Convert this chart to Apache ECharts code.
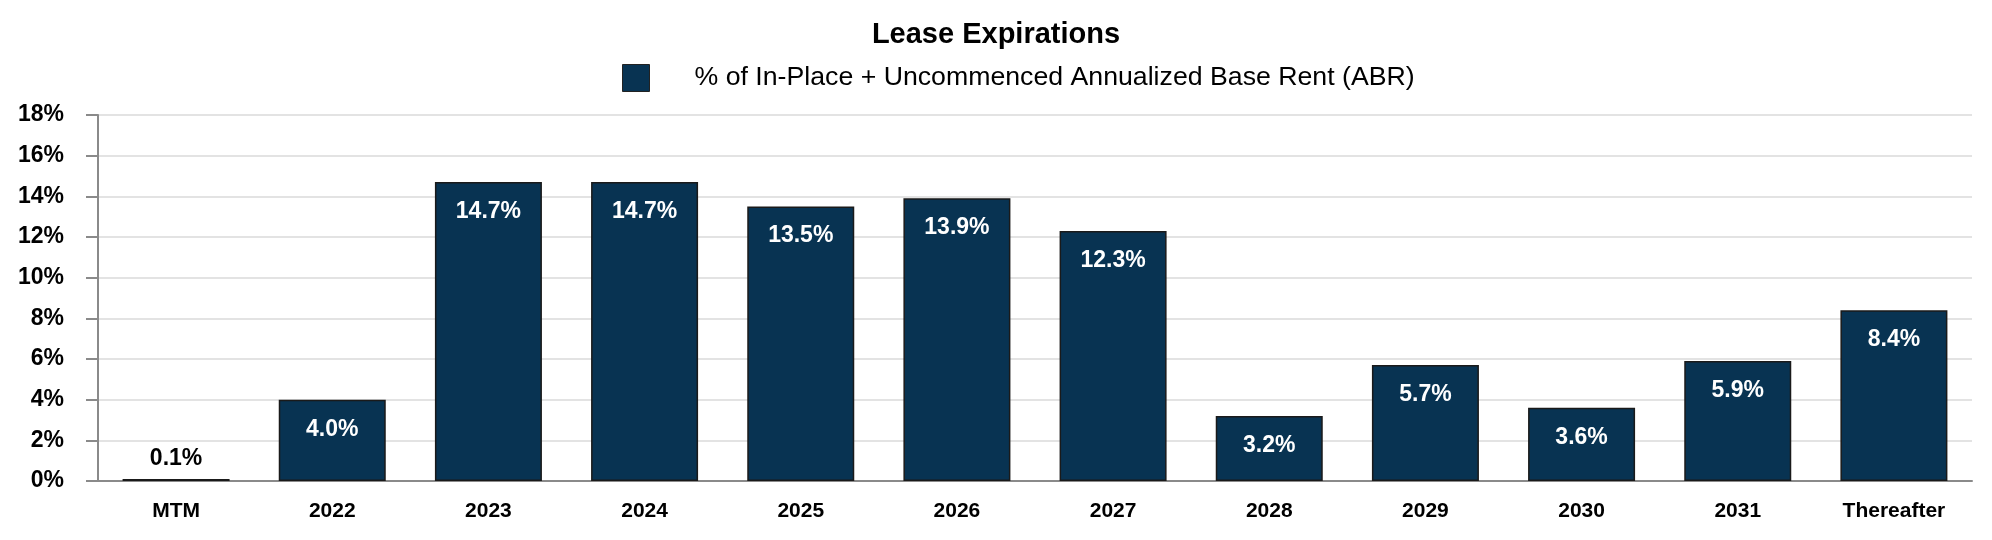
<!DOCTYPE html>
<html>
<head>
<meta charset="utf-8">
<script src="https://cdn.jsdelivr.net/npm/echarts@6/dist/echarts.min.js"></script>
<style>
html,body{margin:0;padding:0;background:#fff;}
#chart{width:1992px;height:540px;}
</style>
</head>
<body>
<div id="chart"></div>
<script>
const categories = ['MTM','2022','2023','2024','2025','2026','2027','2028','2029','2030','2031','Thereafter'];
const abrPct = [0.1, 4.0, 14.7, 14.7, 13.5, 13.9, 12.3, 3.2, 5.7, 3.6, 5.9, 8.4];
const seriesName = '% of In-Place + Uncommenced Annualized Base Rent (ABR)';
const titleText = 'Lease Expirations';

const FONT = '"Liberation Sans", Arial, Helvetica, sans-serif';
const BAR = '#083352';

const chart = echarts.init(document.getElementById('chart'), null, {renderer: 'canvas'});
chart.setOption({
  animation: false,
  backgroundColor: '#fff',
  title: {
    text: titleText,
    left: 'center',
    top: 15,
    textStyle: {fontFamily: FONT, fontSize: 29, fontWeight: 'bold', color: '#000'}
  },
  legend: {
    data: [seriesName],
    left: 617,
    top: 59,
    itemWidth: 27,
    itemHeight: 27,
    icon: 'rect',
    itemStyle: {color: BAR, borderColor: '#222', borderWidth: 1},
    textStyle: {fontFamily: FONT, fontSize: 26.7, color: '#000', padding: [0, 0, 0, 40]}
  },
  grid: {left: 98, right: 20, top: 115, bottom: 59, containLabel: false},
  xAxis: {
    type: 'category',
    data: categories,
    axisLine: {lineStyle: {color: '#8a8a8a', width: 2}},
    axisTick: {alignWithLabel: true, length: 11, lineStyle: {color: '#8a8a8a', width: 2}},
    axisLabel: {fontFamily: FONT, fontSize: 21, fontWeight: 'bold', color: '#000', margin: 20}
  },
  yAxis: {
    type: 'value',
    min: 0,
    max: 18,
    interval: 2,
    axisLine: {show: true, lineStyle: {color: '#8a8a8a', width: 2}},
    axisTick: {show: true, length: 12, lineStyle: {color: '#8a8a8a', width: 2}},
    axisLabel: {formatter: '{value}%', fontFamily: FONT, fontSize: 23, fontWeight: 'bold', color: '#000', margin: 34},
    splitLine: {lineStyle: {color: '#e3e3e3', width: 2}}
  },
  series: [{
    name: seriesName,
    type: 'bar',
    data: abrPct.map((v, i) => i === 0 ? {
      value: v,
      label: {position: 'top', color: '#000', distance: 9}
    } : v),
    barWidth: 107,
    itemStyle: {color: BAR, borderColor: '#1a1a1a', borderWidth: 1.5},
    label: {
      show: true,
      position: 'insideTop',
      distance: 18,
      formatter: p => p.value.toFixed(1) + '%',
      fontFamily: FONT,
      fontSize: 23,
      fontWeight: 'bold',
      color: '#fff'
    }
  }]
});
</script>
</body>
</html>
